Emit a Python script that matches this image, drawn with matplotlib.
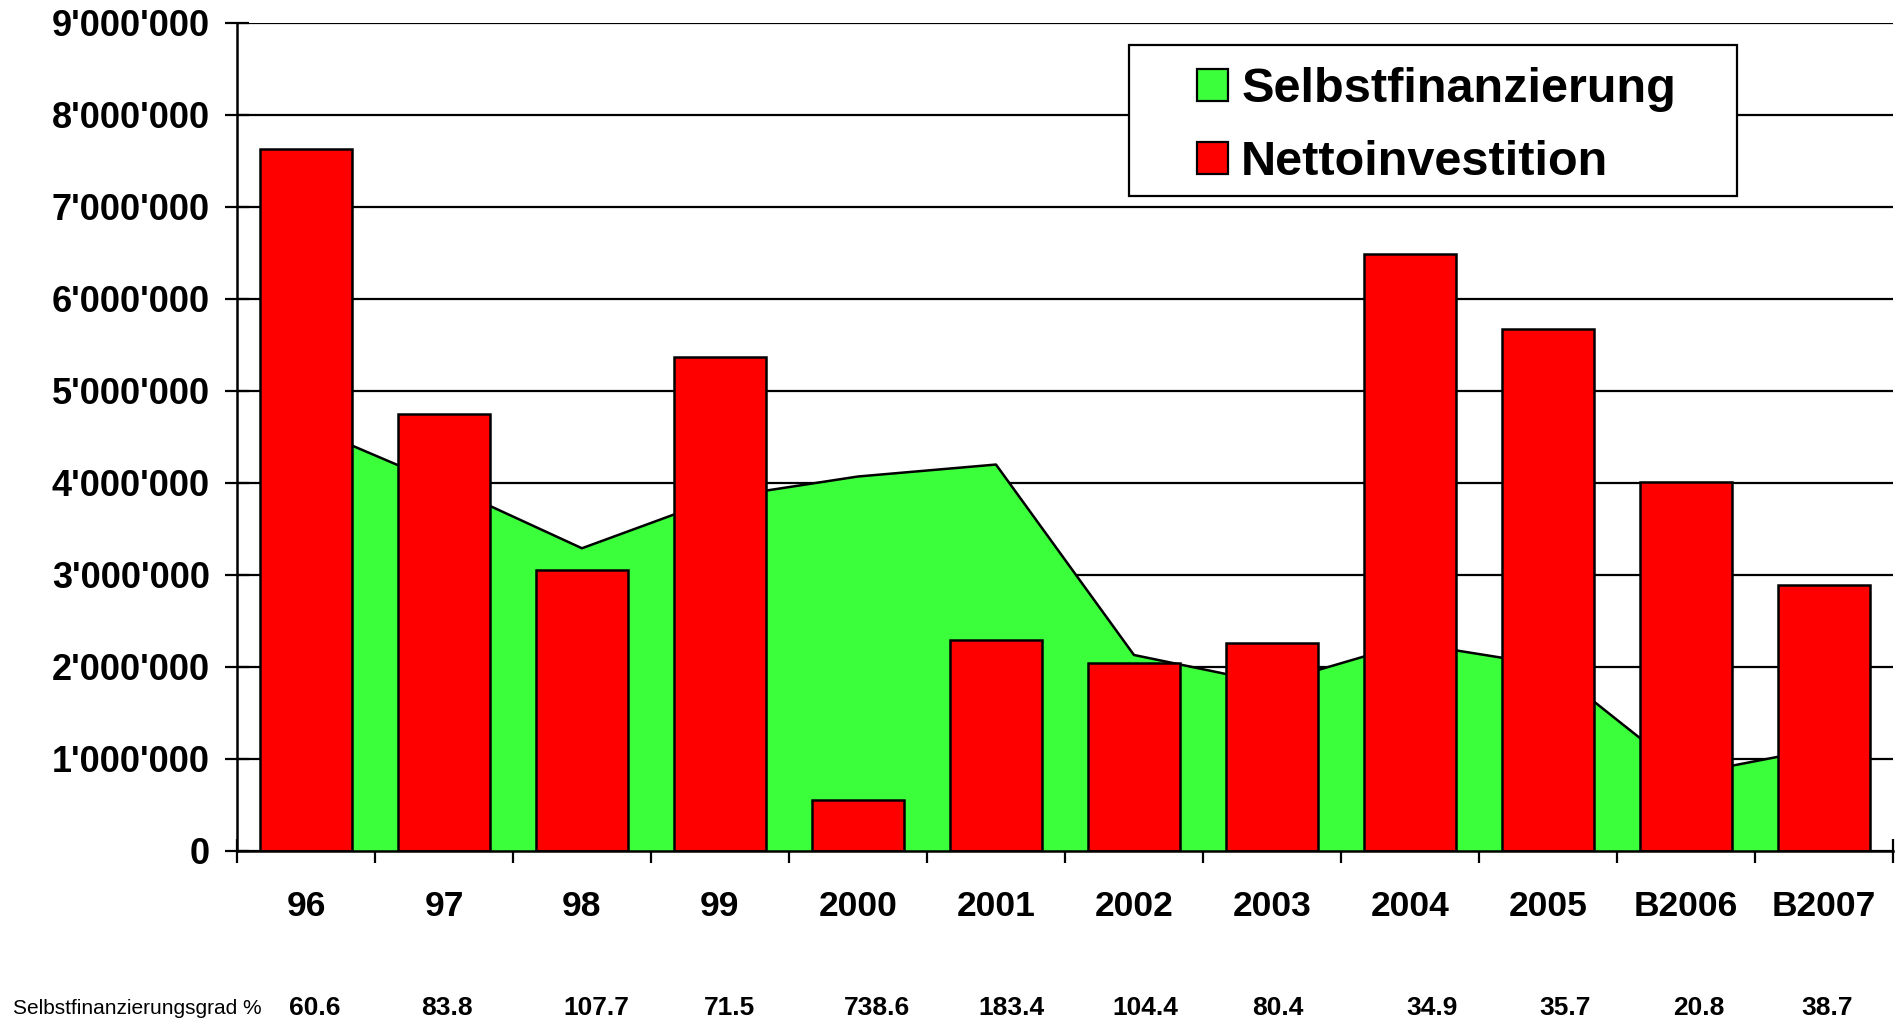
import matplotlib
matplotlib.use("Agg")
import matplotlib.pyplot as plt
from matplotlib.patches import Rectangle, Patch
from matplotlib.ticker import FuncFormatter, FixedLocator
import matplotlib.transforms as mtransforms

plt.rcParams['font.family'] = ['Liberation Sans', 'DejaVu Sans']

categories = ['96', '97', '98', '99', '2000', '2001', '2002', '2003', '2004', '2005', 'B2006', 'B2007']
netto = [7630000, 4750000, 3050000, 5370000, 550000, 2290000, 2040000, 2260000, 6490000, 5670000, 4010000, 2890000]
selbst = [4620000, 3980000, 3290000, 3840000, 4070000, 4200000, 2130000, 1820000, 2260000, 2020000, 830000, 1120000]
grad = ['60.6', '83.8', '107.7', '71.5', '738.6', '183.4', '104.4', '80.4', '34.9', '35.7', '20.8', '38.7']
yticks = [0, 1000000, 2000000, 3000000, 4000000, 5000000, 6000000, 7000000, 8000000, 9000000]

# small horizontal nudges (points) of the bottom-row labels, as in the original layout
grad_nudge = [6, 2, 10, 7, 14, 11, 8, 4, 16, 12, 9, 2]

fig = plt.figure(figsize=(18.97, 10.24), dpi=100)
ax = fig.add_axes([0.1249, 0.169, 0.873, 0.8086])

x = list(range(len(categories)))

ax.set_axisbelow(True)
ax.yaxis.grid(True, color='black', linewidth=1.6, zorder=0)

ax.fill_between(x, selbst, 0, color='#3cff3c', linewidth=0, zorder=1)
ax.plot(x, selbst, color='black', linewidth=1.8, zorder=1.5)

ax.bar(x, netto, width=0.667, color='#ff0000', edgecolor='black', linewidth=1.8, zorder=2)

ax.set_xlim(-0.5, len(categories) - 0.5)
ax.set_ylim(0, 9000000)

ax.set_yticks(yticks)
ax.yaxis.set_major_formatter(FuncFormatter(lambda v, p: f"{int(v):,}".replace(",", "'")))
ax.tick_params(axis='y', direction='inout', length=17, width=1.6, pad=11, labelsize=26)
for lab in ax.get_yticklabels():
    lab.set_fontweight('bold')

ax.xaxis.set_major_locator(FixedLocator([i + 0.5 for i in range(-1, len(categories))]))
ax.xaxis.set_major_formatter(FuncFormatter(lambda v, p: ''))
ax.xaxis.set_minor_locator(FixedLocator(x))
ax.set_xticklabels(categories, minor=True)
ax.tick_params(axis='x', which='major', direction='inout', length=17, width=1.6)
ax.tick_params(axis='x', which='minor', length=0, pad=28, labelsize=25.5)
for lab in ax.get_xticklabels(minor=True):
    lab.set_fontweight('bold')

for s in ['top', 'right']:
    ax.spines[s].set_visible(False)
for s in ['left', 'bottom']:
    ax.spines[s].set_linewidth(1.8)
    ax.spines[s].set_zorder(3)

# legend frame
ax.add_patch(Rectangle((0.5386, 0.791), 0.3671, 0.1824, transform=ax.transAxes,
                       facecolor='white', edgecolor='black', linewidth=1.6, zorder=4))
handles = [Patch(facecolor='#3cff3c', edgecolor='black', linewidth=1.6, label='Selbstfinanzierung'),
           Patch(facecolor='#ff0000', edgecolor='black', linewidth=1.6, label='Nettoinvestition')]
leg = ax.legend(handles=handles, loc='center left', bbox_to_anchor=(0.5797, 0.8756),
                frameon=False, borderpad=0, borderaxespad=0,
                prop={'size': 35, 'weight': 'bold'}, handlelength=0.64, handleheight=0.64,
                handletextpad=0.27, labelspacing=0.57)
leg.set_zorder(5)

# bottom row: Selbstfinanzierungsgrad
trans = mtransforms.blended_transform_factory(ax.transData, fig.transFigure)
fig.text(0.007, 0.0156, 'Selbstfinanzierungsgrad %', fontsize=15, ha='left', va='center')
for i, g in enumerate(grad):
    t = trans + mtransforms.ScaledTranslation(grad_nudge[i] / 72.0, 0, fig.dpi_scale_trans)
    ax.text(i, 0.0156, g, transform=t, fontsize=19, fontweight='bold',
            ha='center', va='center', clip_on=False)

fig.savefig('out.png', dpi=100)
